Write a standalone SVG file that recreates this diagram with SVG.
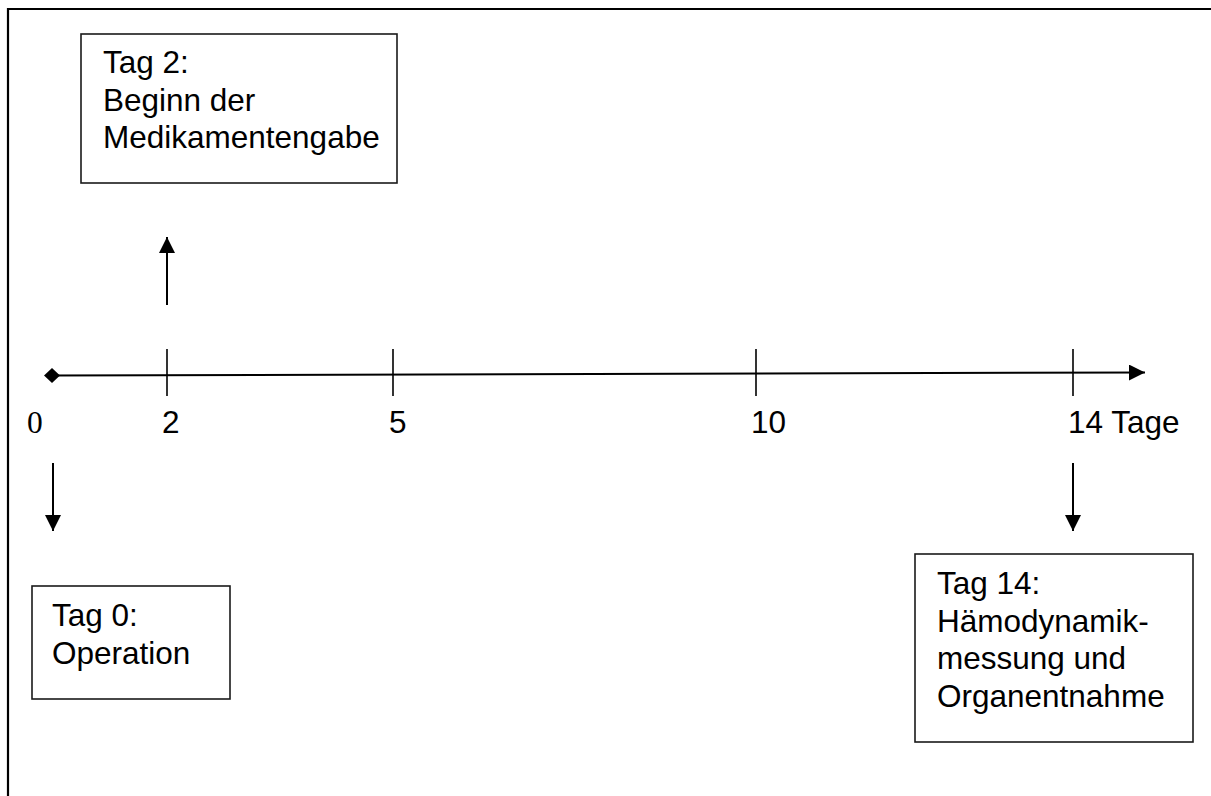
<svg xmlns="http://www.w3.org/2000/svg" width="1211" height="796" viewBox="0 0 1211 796">
<style>
.box{fill:#fff;stroke:#1a1a1a;stroke-width:1.6}
.t{font-family:"Liberation Sans",Arial,sans-serif;font-size:31.5px;fill:#000}
.s{font-family:"Liberation Serif","Times New Roman",serif;font-size:31.5px;fill:#000}
.ln{stroke:#000;stroke-width:2;fill:none}
.tick{stroke:#000;stroke-width:1.6;fill:none}
</style>
<defs>
<marker id="ah" viewBox="0 0 16 16" refX="16" refY="8" markerWidth="16" markerHeight="16" markerUnits="userSpaceOnUse" orient="auto">
<path d="M0,0 L16,8 L0,16 Z" fill="#000"/>
</marker>
</defs>
<rect width="1211" height="796" fill="#fff"/>
<path d="M8,796 V9 H1211" fill="none" stroke="#000" stroke-width="2.2"/>
<g id="connectors">
<line class="ln" x1="52" y1="375.5" x2="1145" y2="372.5" marker-end="url(#ah)"/>
<path d="M44,375.5 L52,368 L60,375.5 L52,383 Z" fill="#000"/>
<line class="tick" x1="167" y1="349" x2="167" y2="396"/>
<line class="tick" x1="393" y1="349" x2="393" y2="396"/>
<line class="tick" x1="756" y1="349" x2="756" y2="396"/>
<line class="tick" x1="1073" y1="349" x2="1073" y2="396"/>
<line class="ln" x1="167" y1="305" x2="167" y2="237" marker-end="url(#ah)"/>
<line class="ln" x1="53" y1="463" x2="53" y2="531" marker-end="url(#ah)"/>
<line class="ln" x1="1073" y1="463" x2="1073" y2="531" marker-end="url(#ah)"/>
</g>
<g id="axis-labels">
<text class="s" x="27" y="433">0</text>
<text class="t" x="162" y="433">2</text>
<text class="t" x="389" y="433">5</text>
<text class="t" x="751" y="433">10</text>
<text class="t" x="1068" y="433">14 Tage</text>
</g>
<g id="node-tag2">
<rect class="box" x="81" y="34" width="316" height="149"/>
<text class="t" x="103" y="73">Tag 2:</text>
<text class="t" x="103" y="110.5">Beginn der</text>
<text class="t" x="103" y="148">Medikamentengabe</text>
</g>
<g id="node-tag0">
<rect class="box" x="32" y="586" width="198" height="113"/>
<text class="t" x="52" y="626">Tag 0:</text>
<text class="t" x="52" y="663.5">Operation</text>
</g>
<g id="node-tag14">
<rect class="box" x="915" y="554" width="278" height="188"/>
<text class="t" x="937" y="594">Tag 14:</text>
<text class="t" x="937" y="631.5">Hämodynamik-</text>
<text class="t" x="937" y="669">messung und</text>
<text class="t" x="937" y="706.5">Organentnahme</text>
</g>
</svg>
